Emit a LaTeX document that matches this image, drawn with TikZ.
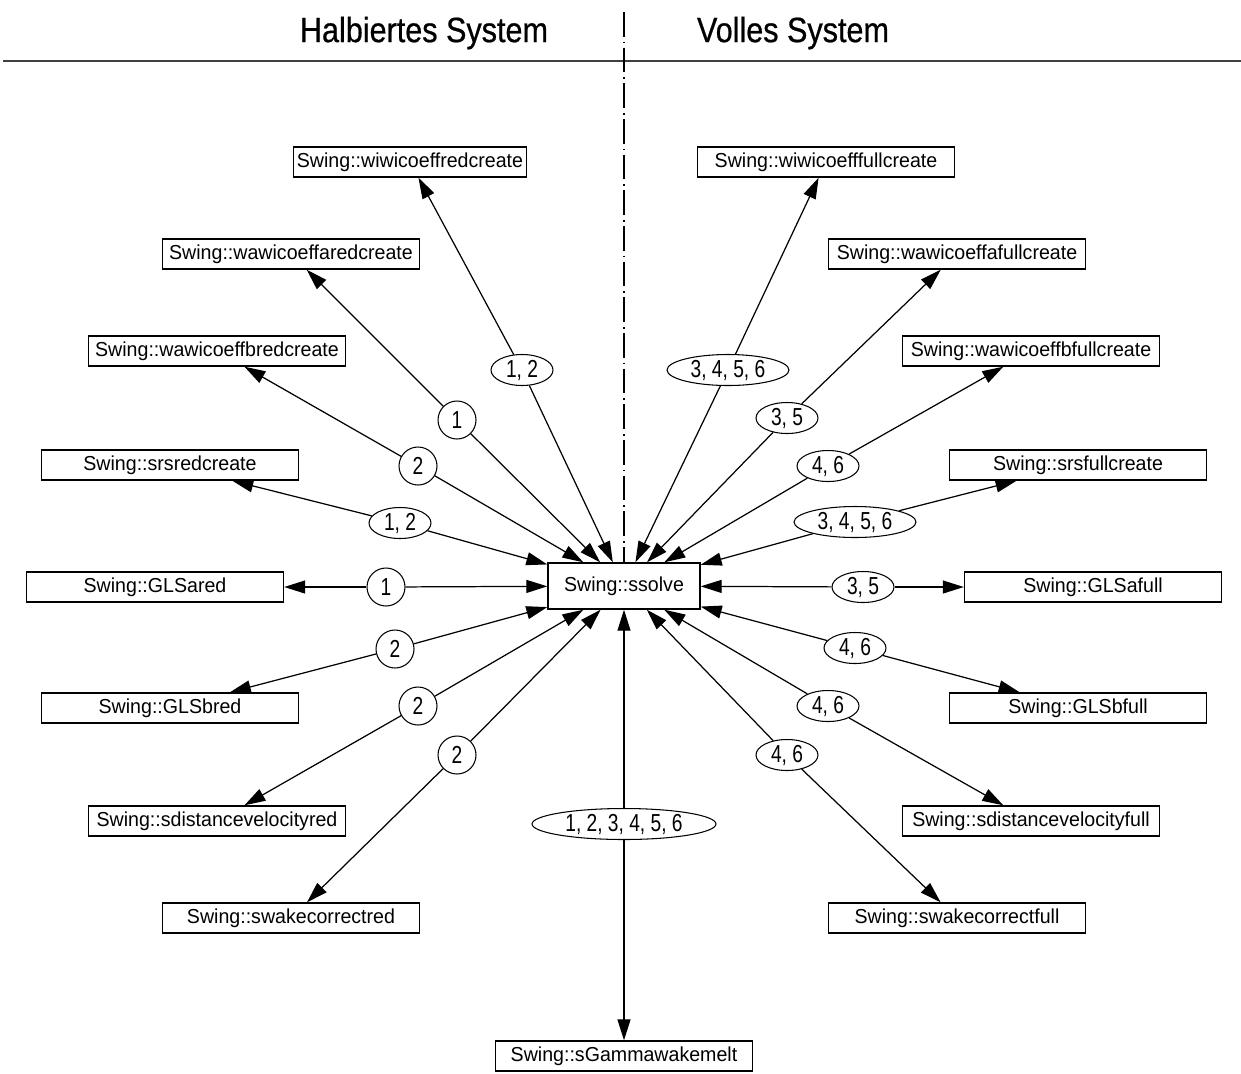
\documentclass[tikz,border=0pt]{standalone}
\usepackage{fontspec}
\setmainfont{Liberation Sans}
\newfontfamily\titlefont[FakeStretch=0.87,FakeBold=0.6]{Liberation Sans}
\newfontfamily\labfont[FakeStretch=0.78]{Liberation Sans}
\newfontfamily\boxfont[FakeStretch=0.97]{Liberation Sans}
\usetikzlibrary{arrows.meta,shapes.geometric}
\begin{document}
\begin{tikzpicture}[x=0.02cm,y=-0.02cm,
  fn/.style={draw, line width=0.8pt, rectangle, minimum width=5.14cm, minimum height=0.6cm, inner sep=0pt,
    font=\boxfont\fontsize{11.5}{12}\selectfont},
  lab/.style={draw, line width=0.6pt, ellipse, inner sep=0pt, minimum height=0.62cm, minimum width=1.24cm,
    font=\labfont\fontsize{14}{14}\selectfont, fill=white},
  one/.style={lab, minimum width=0.76cm, minimum height=0.76cm},
  four/.style={lab, minimum width=2.44cm},
  six/.style={lab, minimum width=3.68cm},
  arr/.style={line width=0.7pt, -{Triangle[length=0.42cm,width=0.26cm]}},
  ttl/.style={font=\titlefont\fontsize{20}{22}\selectfont, inner sep=0pt}]
\useasboundingbox (0,0) rectangle (1241,1073);

% titles and separators
\node[ttl] (tl) at (424,33) {Halbiertes System};
\node[ttl] (tr) at (793,33) {Volles System};
\coordinate (hl) at (3,61);
\coordinate (hr) at (1241,61);
\draw[line width=1.5pt, black!75] (hl) -- (hr);

% central node
\node[fn, minimum width=3.04cm, minimum height=0.92cm] (ss) at (624,586) {Swing::ssolve};
\coordinate (vt) at (624,12);
\draw[line width=0.7pt, dash pattern=on 14pt off 2.8pt on 1.1pt off 2.4pt] (vt) -- (ss.north);

% left leaves
\node[fn, minimum width=4.66cm] (l1) at (410,162) {Swing::wiwicoeffredcreate};
\node[fn] (l2) at (291,254) {Swing::wawicoeffaredcreate};
\node[fn] (l3) at (217,351) {Swing::wawicoeffbredcreate};
\node[fn] (l4) at (170,465) {Swing::srsredcreate};
\node[fn] (l5) at (155,587) {Swing::GLSared};
\node[fn] (l6) at (170,708) {Swing::GLSbred};
\node[fn] (l7) at (217,821) {Swing::sdistancevelocityred};
\node[fn] (l8) at (291,918) {Swing::swakecorrectred};
\node[fn] (b) at (624,1056) {Swing::sGammawakemelt};

% right leaves
\node[fn] (r1) at (826,162) {Swing::wiwicoefffullcreate};
\node[fn] (r2) at (957,254) {Swing::wawicoeffafullcreate};
\node[fn] (r3) at (1031,351) {Swing::wawicoeffbfullcreate};
\node[fn] (r4) at (1078,465) {Swing::srsfullcreate};
\node[fn] (r5) at (1093,587) {Swing::GLSafull};
\node[fn] (r6) at (1078,708) {Swing::GLSbfull};
\node[fn] (r7) at (1031,821) {Swing::sdistancevelocityfull};
\node[fn] (r8) at (957,918) {Swing::swakecorrectfull};

% labels
\node[lab] (a1) at (522,370) {1, 2};
\node[one] (a2) at (457,420) {1};
\node[one] (a3) at (418,466) {2};
\node[lab] (a4) at (400,523) {1, 2};
\node[one] (a5) at (386,587) {1};
\node[one] (a6) at (395,649) {2};
\node[one] (a7) at (418,706) {2};
\node[one] (a8) at (457,755) {2};
\node[six] (ab) at (624,824) {1, 2, 3, 4, 5, 6};
\node[four] (c1) at (728,370) {3, 4, 5, 6};
\node[lab] (c2) at (787,418) {3, 5};
\node[lab] (c3) at (828,466) {4, 6};
\node[four] (c4) at (855,522) {3, 4, 5, 6};
\node[lab] (c5) at (863,587) {3, 5};
\node[lab] (c6) at (855,648) {4, 6};
\node[lab] (c7) at (828,706) {4, 6};
\node[lab] (c8) at (787,755) {4, 6};

% edges
\foreach \a/\l in {a1/l1,a2/l2,a3/l3,a4/l4,a5/l5,a6/l6,a7/l7,a8/l8,ab/b,c1/r1,c2/r2,c3/r3,c4/r4,c5/r5,c6/r6,c7/r7,c8/r8}{
  \draw[arr] (\a) -- (ss);
  \draw[arr] (\a) -- (\l);
}
\end{tikzpicture}
\end{document}
